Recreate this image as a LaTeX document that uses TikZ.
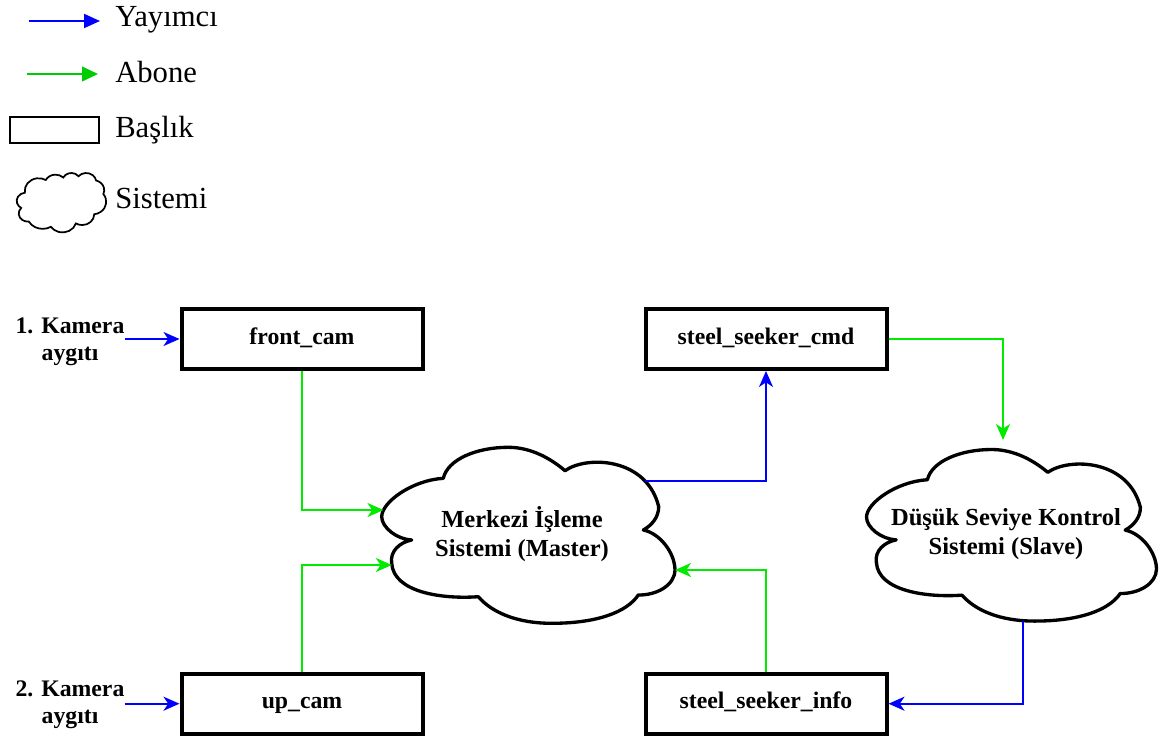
\documentclass[tikz,border=0pt]{standalone}
\usepackage{fontspec}
\setmainfont{Liberation Serif}
\usetikzlibrary{arrows.meta,intersections}

\definecolor{pubblue}{RGB}{0,0,255}
\definecolor{subgreen}{RGB}{0,235,0}
\definecolor{keygreen}{RGB}{0,205,0}

% parametric angle of the point seen under angle #3 on an ellipse with radii #1, #2
\pgfmathdeclarefunction{pang}{3}{%
  \begingroup
  \pgfmathparse{(#3)+mod(atan2((#1)*sin(#3),(#2)*cos(#3))-(#3)+900,360)-180}%
  \pgfmathsmuggle\pgfmathresult
  \endgroup}

\tikzset{
  % one puff of the small cloud outline: radii, start angle, sweep
  puff/.style n args={4}{insert path={
    arc[start angle={pang(#1,#2,#3)}, end angle={pang(#1,#2,(#3)+(#4))},
        x radius=#1pt, y radius=#2pt]}},
  pub/.style={draw=pubblue, line width=1.5pt,
    -{Stealth[length=12pt, width=10.5pt, inset=3.5pt]}},
  sub/.style={draw=subgreen, line width=1.5pt,
    -{Stealth[length=12pt, width=10.5pt, inset=3.5pt]}},
  topic/.style={draw, line width=3pt, minimum width=180.75pt, minimum height=45pt,
    inner sep=0pt, text height=0.9em, text depth=0.14em,
    font=\bfseries\fontsize{17.8pt}{21pt}\selectfont},
  device/.style={align=center, inner sep=0pt,
    font=\bfseries\fontsize{17.8pt}{20.3pt}\selectfont},
  systext/.style={align=center, inner sep=0pt,
    font=\bfseries\fontsize{18.4pt}{22.3pt}\selectfont},
  keytext/.style={anchor=base west, inner sep=0pt,
    font=\fontsize{23pt}{27pt}\selectfont},
  bigcloud/.style={draw, fill=white, line width=2.5pt, line join=round},
}

% small cloud symbol in the frame with corner (#1,#2), size #3 x #4, path options #5
\newcommand\puffcloud[5]{%
  \begin{scope}[shift={(#1,#2)}, x=1pt, y=1pt,
                xscale={#3*0.75/43.2}, yscale={-#4*0.75/43.2}]
    \path[#5] (3.9,14.37)
      [puff={6.753}{9.19}{-190.487}{123.781}]
      [puff={5.333}{7.267}{-144.102}{89.945}]
      [puff={4.365}{5.945}{-145.808}{99.723}]
      [puff={4.857}{6.595}{-130.986}{117.242}]
      [puff={5.333}{7.273}{-78.709}{109.027}]
      [puff={6.775}{9.22}{-46.267}{130.269}]
      [puff={5.785}{7.867}{0.625}{114.033}]
      [puff={6.752}{9.215}{22.452}{115.173}]
      [puff={7.72}{10.543}{66.243}{75.711}]
      [puff={4.36}{5.918}{-274.942}{146.736}]
      [puff={4.345}{5.945}{-246.829}{152.519}]
      -- cycle;
  \end{scope}}

% six-lobed system cloud in the frame with corner (#1,#2), size #3 x #4, path options #5
\newcommand\lobecloud[5]{%
  \begin{scope}[shift={(#1,#2)}, xscale={#3/293.3}, yscale={#4/175.4}]
    \path[#5] (30,92.7)
      .. controls (15,92) and (0,80) .. (0,69.4)
      .. controls (0,55) and (30,33) .. (61.6,31)
      .. controls (66,12) and (95,0) .. (126.6,0)
      .. controls (150,0) and (170,12) .. (183.3,23.4)
      .. controls (205,8) and (265,10) .. (277,59.4)
      .. controls (277,70) and (270,78) .. (261.6,82.7)
      .. controls (278,86) and (293,105) .. (293.3,122.7)
      .. controls (293,138) and (275,148) .. (256.6,147.7)
      .. controls (245,165) and (215,176) .. (170,176)
      .. controls (135,176) and (110,165) .. (96.6,149.4)
      .. controls (60,152) and (12,145) .. (10,116)
      .. controls (8,104) and (18,95) .. (30,92.7)
      -- cycle;
  \end{scope}}

\begin{document}
\begin{tikzpicture}[x=0.75pt, y=-0.75pt]
\useasboundingbox (0,0) rectangle (1163,738);
\fill[white] (0,0) rectangle (1163,738);

% ---------- legend ----------
\coordinate (kp1) at (29,21);
\coordinate (kp2) at (100,21);
\draw[draw=pubblue, line width=1.5pt, -{Triangle[length=12pt, width=10.5pt]}] (kp1) -- (kp2);
\node[keytext] (kpub) at (115,27) {Yayımcı};

\coordinate (ks1) at (27,74);
\coordinate (ks2) at (98,74);
\draw[draw=keygreen, line width=1.5pt, -{Triangle[length=12pt, width=11pt]}] (ks1) -- (ks2);
\node[keytext] (ksub) at (115,83) {Abone};

\node[draw, line width=1.5pt, minimum width=66.5pt, minimum height=20pt, inner sep=0pt]
  (ktopic) at (54.65,130) {};
\node[keytext] (ktopictext) at (115,138) {Başlık};

\puffcloud{16.8}{172.8}{89.4}{59.4}{draw, fill=white, line width=1.3pt}
\node[keytext] (ksys) at (115,208) {Sistemi};

% ---------- systems ----------
\lobecloud{381.7}{447.3}{293.3}{175.4}{bigcloud, name path global=mcloud}
\node[systext] (master) at (522,534) {Merkezi İşleme\\Sistemi (Master)};

\lobecloud{866.5}{449.5}{290}{171}{bigcloud, name path global=scloud}
\node[systext] (slave) at (1006,534) {Düşük Seviye Kontrol\\Sistemi (Slave)};

% ---------- topics ----------
\node[topic] (front) at (302,339) {front\_cam};
\node[topic] (up) at (302,703.7) {up\_cam};
\node[topic] (cmd) at (766,339) {steel\_seeker\_cmd};
\node[topic] (info) at (766,703.7) {steel\_seeker\_info};

% ---------- camera devices ----------
\node[device] (cam1) at (70,342) {1. Kamera\\aygıtı};
\node[device] (cam2) at (70,705) {2. Kamera\\aygıtı};

% ---------- where the connectors meet the clouds ----------
\path[name path=rayA] (302,510) -- (522,510);
\path[name intersections={of=rayA and mcloud, sort by=rayA, by={mA}}];
\path[name path=rayB] (302,565) -- (522,565);
\path[name intersections={of=rayB and mcloud, sort by=rayB, by={mB}}];
\path[name path=rayC] (766,570) -- (522,570);
\path[name intersections={of=rayC and mcloud, sort by=rayC, by={mC}}];
\path[name path=rayD] (522,481) -- (766,481);
\path[name intersections={of=rayD and mcloud, sort by=rayD, by={mD}}];
\coordinate (sA) at (1003,440);
\path[name path=rayF] (1023,534) -- (1023,703.7);
\path[name intersections={of=rayF and scloud, sort by=rayF, by={sB}}];

% ---------- publishers ----------
\draw[pub] (cam1.east |- front.west) -- (front.west);
\draw[pub] (cam2.east |- up.west) -- (up.west);
\draw[pub] (mD) -| (cmd.south);
\draw[pub] (sB) |- (info.east);

% ---------- subscribers ----------
\draw[sub] (front.south) |- (mA);
\draw[sub] (up.north) |- (mB);
\draw[sub] (info.north) |- (mC);
\draw[sub] (cmd.east) -| (sA);
\end{tikzpicture}
\end{document}
